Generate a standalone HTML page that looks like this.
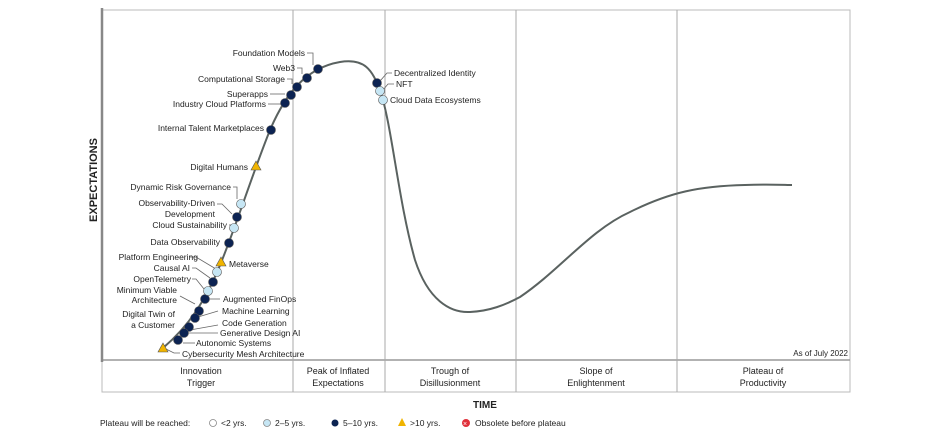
<!DOCTYPE html>
<html><head><style>
body{margin:0;background:#fff}
svg text{font-family:"Liberation Sans",sans-serif;fill:#222}
</style></head><body>
<svg width="940" height="443" viewBox="0 0 940 443">
<rect x="102" y="10" width="748" height="382" fill="none" stroke="#bbb" stroke-width="1"/>
<line x1="102" y1="360" x2="850" y2="360" stroke="#999" stroke-width="1.5"/>
<line x1="102" y1="8" x2="102" y2="362" stroke="#888" stroke-width="2.5"/>
<g stroke="#aaa" stroke-width="1">
<line x1="293" y1="10" x2="293" y2="392"/><line x1="385" y1="10" x2="385" y2="392"/>
<line x1="516" y1="10" x2="516" y2="392"/><line x1="677" y1="10" x2="677" y2="392"/>
</g>
<text x="97" y="180" font-size="11" font-weight="bold" transform="rotate(-90 97 180)" text-anchor="middle">EXPECTATIONS</text>
<g font-size="9" text-anchor="middle" fill="#333">
<text x="201" y="374">Innovation</text><text x="201" y="386">Trigger</text>
<text x="338" y="374">Peak of Inflated</text><text x="338" y="386">Expectations</text>
<text x="450" y="374">Trough of</text><text x="450" y="386">Disillusionment</text>
<text x="596" y="374">Slope of</text><text x="596" y="386">Enlightenment</text>
<text x="763" y="374">Plateau of</text><text x="763" y="386">Productivity</text>
</g>
<text x="485" y="408" font-size="10" font-weight="bold" text-anchor="middle">TIME</text>
<text x="848" y="356" font-size="8" fill="#777" text-anchor="end">As of July 2022</text>
<path d="M163,348 C190,325 205,300 218,270 C235,230 250,180 270,130 C285,95 305,68 340,62 C365,58 372,70 380,90 C392,125 398,200 415,260 C428,300 450,313 470,312 C490,311 505,305 520,297 C560,270 590,230 630,212 C670,192 700,186 745,185 C770,184 785,185 792,185" fill="none" stroke="#5a6260" stroke-width="2"/>
<g stroke="#666" stroke-width="0.8" fill="none">
<path d="M307,53 h6 v12"/><path d="M297,68 h5 v6"/><path d="M287,79 h5 v5"/>
<path d="M270,94 h15"/><path d="M268,104 h13"/><path d="M233,187 h4 v12"/>
<path d="M217,204 h5 l10,10"/><path d="M229,225 h3"/><path d="M190,257 h6 l20,12"/>
<path d="M192,268 h4 l14,10"/><path d="M192,279 h4 l8,10"/><path d="M180,296 l15,8"/>
<path d="M220,299 h-12"/><path d="M218,311 l-20,6"/><path d="M218,325 l-28,5"/>
<path d="M218,333 h-30"/><path d="M195,343 h-12"/><path d="M180,353 h-6 l-8,-4"/>
<path d="M392,73 h-5 l-7,8"/><path d="M394,84 h-6 l-5,6"/>
</g>
<g stroke="#555" stroke-width="0.6">
<g fill="#0c2352">
<circle cx="318" cy="69" r="4.5"/><circle cx="307" cy="78" r="4.5"/><circle cx="297" cy="87" r="4.5"/>
<circle cx="291" cy="95" r="4.5"/><circle cx="285" cy="103" r="4.5"/><circle cx="271" cy="130" r="4.5"/>
<circle cx="237" cy="217" r="4.5"/><circle cx="229" cy="243" r="4.5"/><circle cx="213" cy="282" r="4.5"/>
<circle cx="205" cy="299" r="4.5"/><circle cx="199" cy="311" r="4.5"/><circle cx="195" cy="318" r="4.5"/>
<circle cx="189" cy="327" r="4.5"/><circle cx="184" cy="333" r="4.5"/><circle cx="178" cy="340" r="4.5"/>
<circle cx="377" cy="83" r="4.5"/>
</g>
<g fill="#c6e6f4">
<circle cx="241" cy="204" r="4.5"/><circle cx="234" cy="228" r="4.5"/><circle cx="217" cy="272" r="4.5"/>
<circle cx="208" cy="291" r="4.5"/><circle cx="380" cy="91" r="4.5"/><circle cx="383" cy="100" r="4.5"/>
</g>
<g fill="#f0b400">
<polygon points="256,161 261,170 251,170"/><polygon points="221,257 226,266 216,266"/><polygon points="163,343 168,352 158,352"/>
</g>
</g>
<g font-size="8.5" text-anchor="end">
<text x="305" y="56">Foundation Models</text><text x="295" y="71">Web3</text>
<text x="285" y="82">Computational Storage</text><text x="268" y="97">Superapps</text>
<text x="266" y="107">Industry Cloud Platforms</text><text x="264" y="131">Internal Talent Marketplaces</text>
<text x="248" y="170">Digital Humans</text><text x="231" y="190">Dynamic Risk Governance</text>
<text x="215" y="206">Observability-Driven</text><text x="215" y="217">Development</text>
<text x="227" y="228">Cloud Sustainability</text><text x="220" y="245">Data Observability</text>
<text x="198" y="260">Platform Engineering</text><text x="190" y="271">Causal AI</text>
<text x="191" y="282">OpenTelemetry</text><text x="177" y="293">Minimum Viable</text>
<text x="177" y="303">Architecture</text><text x="175" y="317">Digital Twin of</text>
<text x="175" y="328">a Customer</text>
</g>
<g font-size="8.5">
<text x="229" y="267">Metaverse</text><text x="223" y="302">Augmented FinOps</text>
<text x="222" y="314">Machine Learning</text><text x="222" y="326">Code Generation</text>
<text x="220" y="336">Generative Design AI</text><text x="196" y="346">Autonomic Systems</text>
<text x="182" y="357">Cybersecurity Mesh Architecture</text>
<text x="394" y="76">Decentralized Identity</text><text x="396" y="87">NFT</text>
<text x="390" y="103">Cloud Data Ecosystems</text>
</g>
<g font-size="8.5">
<text x="100" y="426">Plateau will be reached:</text>
<circle cx="213" cy="423" r="3.5" fill="#fff" stroke="#888" stroke-width="0.8"/><text x="221" y="426">&lt;2 yrs.</text>
<circle cx="267" cy="423" r="3.5" fill="#c6e6f4" stroke="#888" stroke-width="0.8"/><text x="275" y="426">2–5 yrs.</text>
<circle cx="335" cy="423" r="3.5" fill="#0c2352"/><text x="343" y="426">5–10 yrs.</text>
<polygon points="402,418 406,426 398,426" fill="#f0b400"/><text x="410" y="426">&gt;10 yrs.</text>
<circle cx="466" cy="423" r="4" fill="#e0303a"/><text x="463" y="426" font-size="7" fill="#fff" style="fill:#fff">×</text>
<text x="475" y="426">Obsolete before plateau</text>
</g>
</svg>
</body></html>
